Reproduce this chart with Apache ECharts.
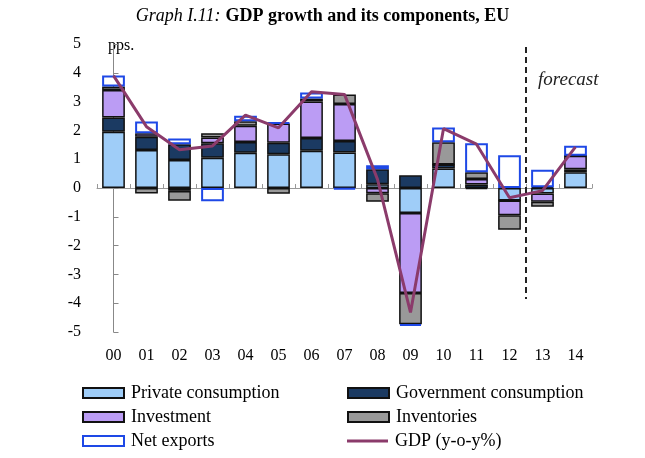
<!DOCTYPE html>
<html>
<head>
<meta charset="utf-8">
<script src="https://cdn.jsdelivr.net/npm/echarts@6/dist/echarts.min.js"></script>
<style>html,body{margin:0;padding:0;background:#fff;}#c{width:645px;height:458px;}</style>
</head>
<body>
<div id="c"></div>
<script>
const categories = ['00','01','02','03','04','05','06','07','08','09','10','11','12','13','14'];
const privateConsumption = [1.95, 1.32, 0.97, 1.05, 1.22, 1.17, 1.29, 1.23, 0.13, -0.87, 0.68, -0.04, -0.43, -0.19, 0.55];
const governmentConsumption = [0.5, 0.46, 0.55, 0.5, 0.38, 0.4, 0.45, 0.4, 0.52, 0.44, 0.14, 0.12, 0, 0.03, 0.1];
const investment = [0.95, 0.12, -0.1, 0.2, 0.56, 0.67, 1.26, 1.29, -0.18, -2.78, 0, 0.19, -0.52, -0.29, 0.47];
const inventories = [0.12, -0.19, -0.34, 0.15, 0.16, -0.2, 0.11, 0.33, -0.3, -1.08, 0.77, 0.24, -0.5, -0.17, 0];
const netExports = [0.39, 0.41, 0.2, -0.46, 0.19, 0.03, 0.21, -0.05, 0.14, -0.06, 0.51, 1.0, 1.14, 0.6, 0.35];
const gdp = [3.9, 2.13, 1.33, 1.46, 2.53, 2.09, 3.34, 3.25, 0.3, -4.32, 2.06, 1.52, -0.34, -0.09, 1.43];
const forecastLine = [[12.5, 4.9], [12.5, -3.85]];
const yTicks = { min: -5, max: 5, interval: 1 };

const FONT = 'Liberation Serif';
const chart = echarts.init(document.getElementById('c'), null, { renderer: 'canvas' });

function barSeries(name, data, fill, border, bw) {
  return {
    name: name, type: 'bar', stack: 'total', data: data,
    xAxisIndex: 0, yAxisIndex: 0, barWidth: '69%',
    itemStyle: { color: fill, borderColor: border, borderWidth: bw },
    emphasis: { disabled: true }, animation: false
  };
}

function legendItem(name, left, top, icon) {
  const item = icon ? { name: name, icon: icon } : { name: name };
  return {
    data: [item], left: left, top: top, padding: 0, itemWidth: 41, itemHeight: 10, itemGap: 0,
    icon: 'rect', selectedMode: false,
    textStyle: { fontFamily: FONT, fontSize: 18, color: '#000', lineHeight: 18, padding: [0, 0, 0, 2] }
  };
}

const lineIcon = 'path://M0,0 L41,0 L41,3 L0,3 Z';

const option = {
  animation: false,
  backgroundColor: '#fff',
  title: {
    text: '{i|Graph I.11:} {b|GDP growth and its components, EU}',
    left: 'center', top: 2,
    textStyle: {
      rich: {
        i: { fontFamily: FONT, fontStyle: 'italic', fontWeight: 'normal', fontSize: 18, color: '#000' },
        b: { fontFamily: FONT, fontWeight: 'bold', fontSize: 18, color: '#000' }
      }
    }
  },
  grid: { left: 97, right: 53, top: 44, bottom: 126, containLabel: false },
  legend: [
    legendItem('Private consumption', 82, 384),
    legendItem('Investment', 82, 408),
    legendItem('Net exports', 82, 432),
    legendItem('Government consumption', 347, 384),
    legendItem('Inventories', 347, 408),
    legendItem('GDP (y-o-y%)', 347, 432, lineIcon)
  ],
  xAxis: [
    {
      type: 'category', data: categories, position: 'bottom',
      axisLine: { show: false, onZero: false }, axisTick: { show: false },
      axisLabel: { fontFamily: FONT, fontSize: 16, color: '#000', margin: 16, interval: 0 },
      splitLine: { show: false }
    },
    {
      type: 'category', data: categories, position: 'top',
      axisLine: { show: true, onZero: true, lineStyle: { color: '#999', width: 1 } },
      axisTick: { show: true, inside: false, length: 4, interval: 0, lineStyle: { color: '#999' } },
      axisLabel: { show: false }, splitLine: { show: false }
    },
    {
      type: 'value', min: -0.5, max: 14.5, show: false
    }
  ],
  yAxis: {
    type: 'value', min: yTicks.min, max: yTicks.max, interval: yTicks.interval,
    axisLine: { show: true, lineStyle: { color: '#888', width: 1 } },
    axisTick: { show: true, inside: true, length: 5, lineStyle: { color: '#888' } },
    axisLabel: { fontFamily: FONT, fontSize: 16, color: '#000', margin: 16 },
    splitLine: { show: false }
  },
  graphic: [
    { type: 'text', left: 108, top: 38, style: { text: 'pps.', fontFamily: FONT, fontSize: 16, fill: '#000' } },
    { type: 'text', left: 538, top: 70, style: { text: 'forecast', fontFamily: FONT, fontStyle: 'italic', fontSize: 19, fill: '#222' } }
  ],
  series: [
    barSeries('Private consumption', privateConsumption, '#9fcdf8', '#111', 1.5),
    barSeries('Government consumption', governmentConsumption, '#1b3a62', '#111', 1.5),
    barSeries('Investment', investment, '#bb9cf4', '#111', 1.5),
    barSeries('Inventories', inventories, '#999999', '#111', 1.5),
    barSeries('Net exports', netExports, '#ffffff', '#1e48e6', 2),
    {
      name: 'GDP (y-o-y%)', type: 'line', data: gdp, xAxisIndex: 0, yAxisIndex: 0,
      symbol: 'none', lineStyle: { color: '#8b3b6b', width: 3 }, itemStyle: { color: '#8b3b6b' },
      z: 5, emphasis: { disabled: true }
    },
    {
      name: 'forecastDivider', type: 'line', data: forecastLine, xAxisIndex: 2, yAxisIndex: 0,
      symbol: 'none', lineStyle: { color: '#222', width: 2, type: [6, 4] }, z: 6,
      emphasis: { disabled: true }, silent: true
    }
  ]
};
chart.setOption(option);
</script>
</body>
</html>
